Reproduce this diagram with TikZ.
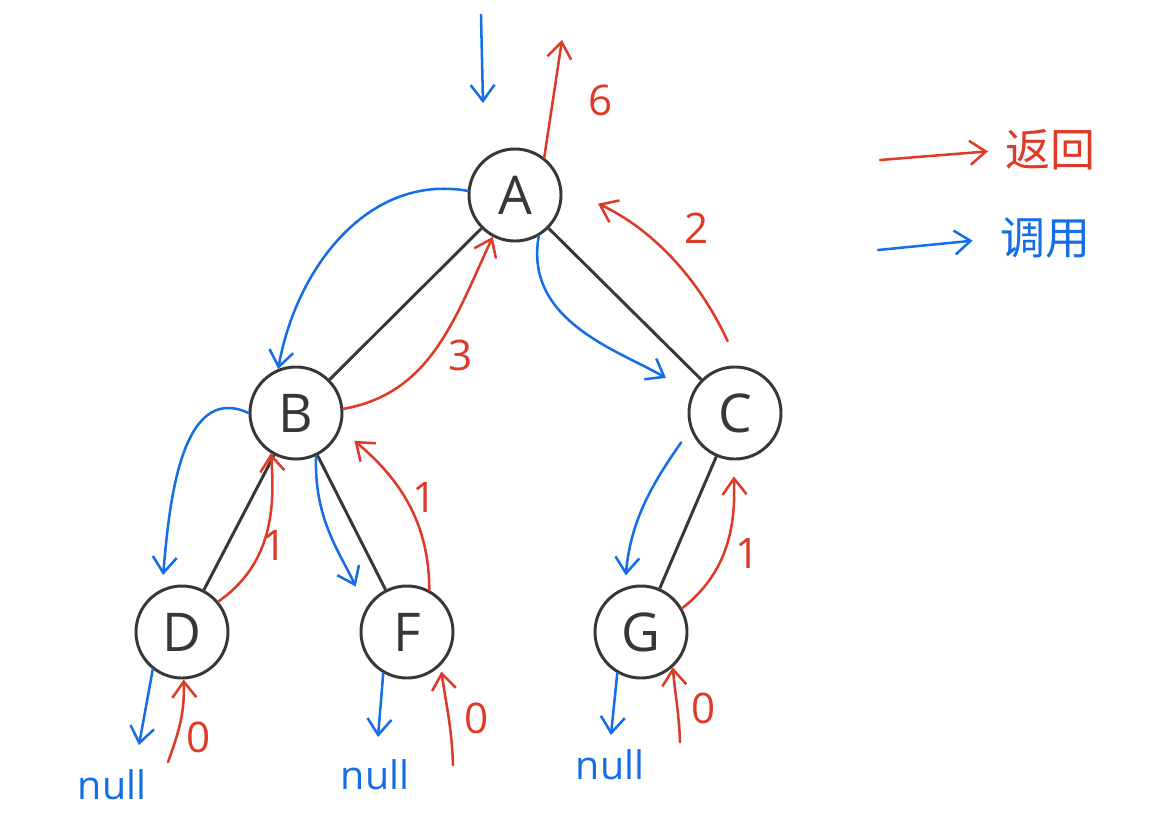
\documentclass[tikz,border=0pt]{standalone}
\usepackage{fontspec}
\setmainfont{Open Sans}
\newfontfamily\cjkfont{Noto Sans CJK SC}
\usetikzlibrary{arrows.meta}
\definecolor{callblue}{RGB}{22,110,230}
\definecolor{retred}{RGB}{222,58,40}
\definecolor{treegray}{RGB}{55,55,55}
\tikzset{
	treenode/.style={circle, draw=treegray, text=treegray, line width=2.1pt, minimum size=2.3cm, inner sep=0pt, font=\fontsize{38}{40}\selectfont},
	treeedge/.style={draw=treegray, line width=2.1pt}
}
\tikzset{
	call/.style={->, draw=callblue, line width=1.8pt, line cap=round},
	ret/.style={->, draw=retred, line width=1.8pt, line cap=round},
	numlabel/.style={text=retred, inner sep=0pt, font=\fontsize{30}{32}\selectfont},
	nulllabel/.style={text=callblue, inner sep=0pt, font=\fontsize{28}{30}\selectfont},
	legendtext/.style={inner sep=0pt, font=\cjkfont\fontsize{32}{34}\selectfont}
}

\begin{document}
\begin{tikzpicture}[x=0.025cm, y=0.025cm, >={Straight Barb[length=4mm,width=6mm]}]
		\useasboundingbox (0,0) rectangle (1173,-837);
		\node[treenode] at (515,-195) (A) {A};
		\node[treenode] at (296,-413) (B) {B};
		\node[treenode] at (735,-413) (C) {C};
		\node[treenode] at (182,-632) (D) {D};
		\node[treenode] at (407,-632) (F) {F};
		\node[treenode] at (641,-632) (G) {G};
		
		%free ends
		\coordinate (in0) at (481,-15);
		\coordinate (in1) at (483,-103);
		\coordinate (a0) at (562,-40);
		\coordinate (d0) at (139,-745);
		\coordinate (f0) at (378,-737);
		\coordinate (g0) at (611,-735);
		\coordinate (d1) at (168,-762);
		\coordinate (f1) at (453,-765);
		\coordinate (g1) at (680,-742);
		\coordinate (lr0) at (880,-160);
		\coordinate (lc0) at (878,-250);
		
		%text
		\node[numlabel] at (601,-100) (n6) {6};
		\node[numlabel] at (697,-228) (n2) {2};
		\node[numlabel] at (461,-355) (n3) {3};
		\node[numlabel] at (275,-545) (n1d) {1};
		\node[numlabel] at (425,-497) (n1f) {1};
		\node[numlabel] at (748,-553) (n1g) {1};
		\node[numlabel] at (199,-737) (n0d) {0};
		\node[numlabel] at (477,-718) (n0f) {0};
		\node[numlabel] at (704,-708) (n0g) {0};
		\node[nulllabel] at (112,-785) (nulld) {null};
		\node[nulllabel] at (375,-775) (nullf) {null};
		\node[nulllabel] at (610,-765) (nullg) {null};
		\node[legendtext, text=retred] at (1050,-150) (lret) {返回};
		\node[legendtext, text=callblue] at (1045,-238) (lcall) {调用};
		
		%Lines
		\draw[treeedge] (A) -- (B);
		\draw[treeedge] (A) -- (C);
		\draw[treeedge] (B) -- (D);
		\draw[treeedge] (B) -- (F);
		\draw[treeedge] (C) -- (G);
		
		%calls
		\draw[call] (in0) -- (in1);
		\draw[call] (A.175) to[out=170, in=80] (B.112);
		\draw[call, shorten >=0.75cm] (A.-60) to[out=-100, in=150] (C.155);
		\draw[call, shorten >=0.35cm] (B.180) to[out=155, in=85] (D.115);
		\draw[call, shorten >=0.6cm] (B.-65) to[out=-92, in=115] (F.150);
		\draw[call, shorten <=0.4cm, shorten >=0.3cm] (C.200) to[out=235, in=85] (G.110);
		\draw[call] (D.232) -- (d0);
		\draw[call] (F.240) -- (f0);
		\draw[call] (G.240) -- (g0);
		
		%returns
		\draw[ret] (A.52) -- (a0);
		\draw[ret, shorten <=0.68cm, shorten >=1cm] (C.85) to[out=115, in=-25] (A.10);
		\draw[ret] (B.5) to[out=10, in=-115] (A.242);
		\draw[ret] (D.40) to[out=35, in=-85] (B.238);
		\draw[ret, shorten >=0.45cm] (F.62) to[out=90, in=-40] (B.-20);
		\draw[ret, shorten >=0.4cm] (G.30) to[out=38, in=-88] (C.-92);
		\draw[ret] (d1) to[out=70, in=-88] (D.-88);
		\draw[ret, shorten >=0.15cm] (f1) to[out=92, in=-82] (F.-45);
		\draw[ret] (g1) to[out=92, in=-85] (G.-48);
		
		%legend
		\draw[ret, shorten >=0.42cm] (lr0) -- (lret.west);
		\draw[call, shorten >=0.68cm] (lc0) -- (lcall.west);
	\end{tikzpicture}
\end{document}
